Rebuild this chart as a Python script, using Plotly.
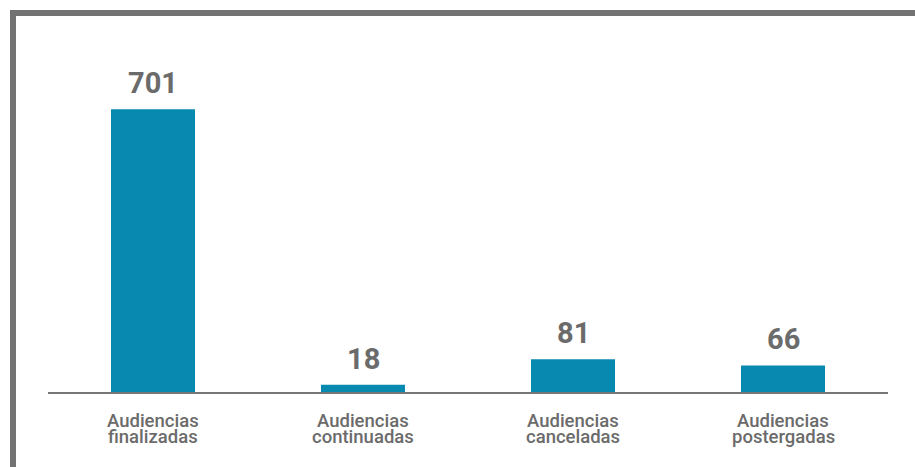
import plotly.graph_objects as go

line1 = ["Audiencias", "Audiencias", "Audiencias", "Audiencias"]
line2 = ["finalizadas", "continuadas", "canceladas", "postergadas"]
values = [701, 18, 81, 66]

BAR_COLOR = "#0889b0"
GRAY = "#6b6b6b"
BORDER = "#737373"

cats = [a + " " + b for a, b in zip(line1, line2)]

fig = go.Figure(go.Bar(
    x=cats, y=values,
    marker=dict(color=BAR_COLOR, line=dict(width=0)),
    width=0.4,
    hoverinfo="skip",
))

L, R, T, B = 48, 27, 29, 75
W, H = 915, 467
pw = W - L - R
ph = H - T - B

def px(x):
    return (x - L) / pw

def py(y):
    return (H - B - y) / ph

annotations = []
for c, v in zip(cats, values):
    annotations.append(dict(x=c, y=v, xref="x", yref="y", text="<b>%d</b>" % v,
                            showarrow=False, yanchor="middle", yshift=26,
                            font=dict(family="Roboto", size=29, color=GRAY)))
for c, a, b in zip(cats, line1, line2):
    annotations.append(dict(x=c, y=0, xref="x", yref="paper", text=a,
                            showarrow=False, yanchor="middle", yshift=-(420.5 - (H - B)),
                            font=dict(family="Roboto", size=18.5, color=GRAY, weight=500)))
    annotations.append(dict(x=c, y=0, xref="x", yref="paper", text=b,
                            showarrow=False, yanchor="middle", yshift=-(436.5 - (H - B)),
                            font=dict(family="Roboto", size=18.5, color=GRAY, weight=500)))

fig.update_layout(
    width=W, height=H,
    margin=dict(l=L, r=R, t=T, b=B),
    paper_bgcolor="white", plot_bgcolor="white",
    showlegend=False,
    xaxis=dict(range=[-0.5, 3.5], showline=True, linecolor="#777777", linewidth=2,
               showgrid=False, zeroline=False, ticks="", showticklabels=False),
    yaxis=dict(range=[0, 900], visible=False, showgrid=False, zeroline=False),
    annotations=annotations,
    shapes=[
        dict(type="line", xref="paper", yref="paper", x0=px(10), x1=px(915), y0=py(13), y1=py(13),
             line=dict(color=BORDER, width=6)),
        dict(type="line", xref="paper", yref="paper", x0=px(13), x1=px(13), y0=py(10), y1=py(470),
             line=dict(color=BORDER, width=6)),
    ],
)

fig.write_html("out.html", config={"displayModeBar": False},
               post_script="document.body.style.margin='0';document.body.style.overflow='hidden';")
